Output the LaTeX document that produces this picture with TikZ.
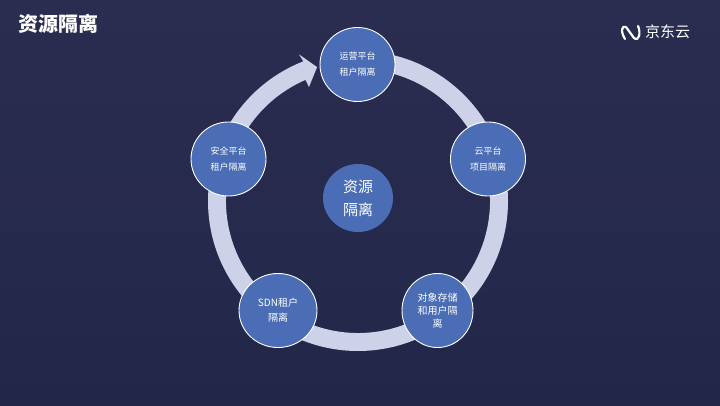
\documentclass[tikz,border=0pt]{standalone}
\usepackage{fontspec}
\usepackage{tikz}
\usetikzlibrary{shapes.geometric}
\setmainfont{Noto Sans CJK SC}
\definecolor{bgtop}{HTML}{2B2D50}
\definecolor{bgbottom}{HTML}{22274A}
\definecolor{ringblue}{HTML}{CDD2E8}
\definecolor{discblue}{HTML}{4A6DB5}
\begin{document}
\begin{tikzpicture}[
  x=1pt,y=1pt,
  disc/.style={ellipse,draw=white,line width=0.9pt,fill=discblue,text=white,align=center,minimum width=75pt,minimum height=74pt,inner sep=0pt,font=\fontsize{9}{16}\selectfont},
  bigdisc/.style={disc,font=\fontsize{10}{15}\selectfont},
  ring/.style={fill=ringblue}
]
\shade[top color=bgtop,bottom color=bgbottom] (0,0) rectangle (720,405);
\useasboundingbox (0,0) rectangle (720,405);
\coordinate (ringc) at (358,204);
% ring arrow
\begin{scope}[shift={(ringc)}]
\fill[ring] (90:150) arc[start angle=90,end angle=-248.6,radius=150]
  -- (111.9:158) -- (107:140) -- (113.3:124) -- (113.4:132)
  arc[start angle=-246.6,end angle=90,radius=132] -- cycle;
\end{scope}
\node[disc] (ops) at (357.5,340.5) {运营平台\\租户隔离};
\node[disc] (cloud) at (488,246) {云平台\\项目隔离};
\node[bigdisc,minimum width=71pt,font=\fontsize{10}{12.7}\selectfont] (store) at (437.5,94.5) {对象存储\\和用户隔\\离};
\node[bigdisc,minimum width=78pt] (sdn) at (278,94.5) {SDN租户\\隔离};
\node[disc] (sec) at (228.5,246) {安全平台\\租户隔离};
\node[disc,draw=none,minimum width=70pt,minimum height=68pt,font=\fontsize{15}{23}\selectfont] (core) at (358,207) {资源\\隔离};
\node[text=white,anchor=west,inner sep=0pt,font=\fontsize{20}{20}\selectfont\bfseries] (title) at (18.5,381.5) {资源隔离};
% logo
\draw[white,line width=2.2pt,line join=round,line cap=round]
  (625,366) .. controls (620,374) and (622,380) .. (626,378) -- (634,367) .. controls (639,363) and (641,372) .. (638,379);
\node[text=white,anchor=west,inner sep=0pt,font=\fontsize{15}{15}\selectfont] (brand) at (645,373) {京东云};
\end{tikzpicture}
\end{document}
